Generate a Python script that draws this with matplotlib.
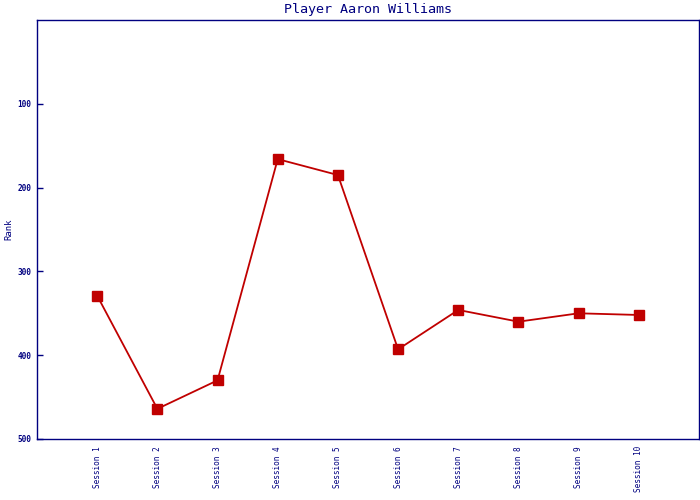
import matplotlib
matplotlib.use('Agg')
import matplotlib.pyplot as plt

sessions = ['Session 1', 'Session 2', 'Session 3', 'Session 4', 'Session 5',
            'Session 6', 'Session 7', 'Session 8', 'Session 9', 'Session 10']
ranks = [329, 464, 430, 166, 185, 393, 346, 360, 350, 352]
yticks = [100, 200, 300, 400, 500]

navy = '#000080'
red = '#C00000'
plt.rcParams['font.family'] = 'DejaVu Sans Mono'

fig = plt.figure(figsize=(7, 5), dpi=100)
ax = fig.add_axes([37 / 700, 61 / 500, 662 / 700, 419 / 500])

x = list(range(1, len(sessions) + 1))
ax.plot(x, ranks, color=red, linewidth=1.3, marker='s', markersize=7,
        markerfacecolor=red, markeredgecolor=red)

ax.set_xlim(0, len(sessions) + 1)
ax.set_ylim(500, 0)
ax.set_xticks(x)
ax.set_xticklabels(sessions, rotation=90, fontsize=5.6, color=navy)
ax.set_yticks(yticks)
ax.set_yticklabels([str(v) for v in yticks], fontsize=5.6, color=navy, fontweight='bold')
ax.tick_params(axis='x', length=0, pad=5)
ax.tick_params(axis='y', direction='in', length=4, color=navy, width=1, pad=4)

for s in ax.spines.values():
    s.set_color(navy)
    s.set_linewidth(1)

ax.set_ylabel('Rank', fontsize=6.5, color=navy)
ax.yaxis.set_label_coords(-0.036, 0.5)
ax.set_title('Player Aaron Williams', fontsize=9.6, color=navy, pad=5)

fig.savefig('out.png', dpi=100)
